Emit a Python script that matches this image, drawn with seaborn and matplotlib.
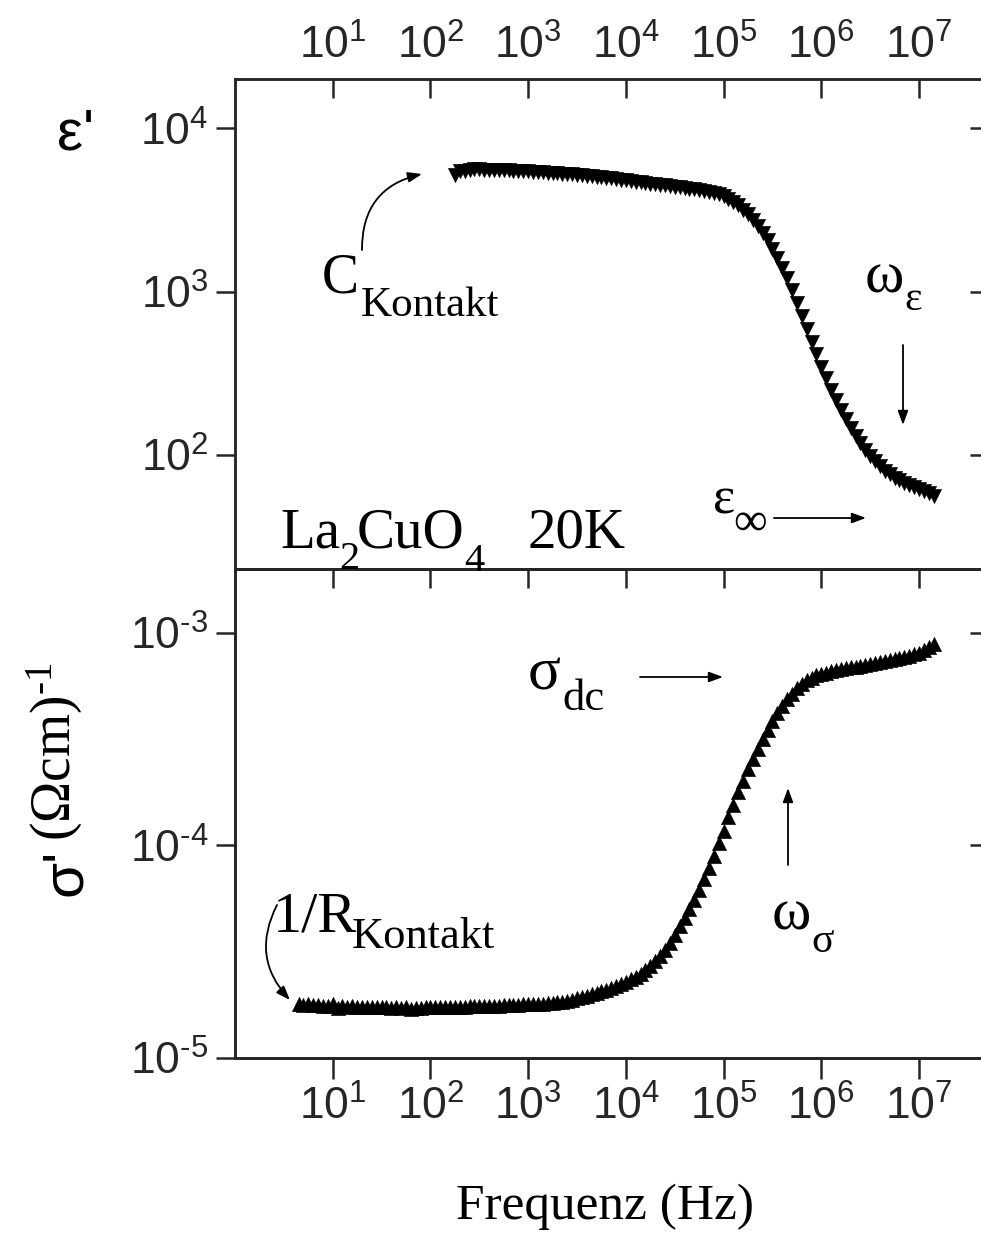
import numpy as np
import pandas as pd
import matplotlib
matplotlib.use("Agg")
import matplotlib.pyplot as plt
import seaborn as sns
from matplotlib.ticker import NullLocator, FuncFormatter
from matplotlib.patches import FancyArrowPatch

# ---------------- data ----------------
# upper panel: eps'(f), log10 values
eps_logf = [2.25, 2.30, 2.35, 2.40, 2.45, 2.50, 2.55, 2.60, 2.65, 2.70, 2.75, 2.80, 2.85, 2.90, 2.95,
            3.00, 3.05, 3.10, 3.15, 3.20, 3.25, 3.30, 3.35, 3.40, 3.45, 3.50, 3.55, 3.60, 3.65, 3.70, 3.75, 3.80, 3.85, 3.90, 3.95,
            4.00, 4.05, 4.10, 4.15, 4.20, 4.25, 4.30, 4.35, 4.40, 4.45, 4.50, 4.55, 4.60, 4.65, 4.70, 4.75, 4.80, 4.85, 4.90, 4.95,
            5.00, 5.05, 5.10, 5.15, 5.20, 5.25, 5.30, 5.35, 5.40, 5.45, 5.50, 5.55, 5.60, 5.65, 5.70, 5.75, 5.80, 5.85, 5.90, 5.95,
            6.00, 6.05, 6.10, 6.15, 6.20, 6.25, 6.30, 6.35, 6.40, 6.45, 6.50, 6.55, 6.60, 6.65, 6.70, 6.75, 6.80, 6.85, 6.90, 6.95,
            7.00, 7.05, 7.10, 7.15]
eps_logv = [3.715, 3.735, 3.740, 3.745, 3.748, 3.747, 3.746, 3.745, 3.744, 3.743, 3.742, 3.741, 3.740, 3.738, 3.737,
            3.735, 3.733, 3.731, 3.729, 3.727, 3.725, 3.723, 3.721, 3.719, 3.717, 3.715, 3.712, 3.709, 3.706, 3.703, 3.700, 3.697, 3.693, 3.689, 3.685,
            3.681, 3.677, 3.673, 3.669, 3.665, 3.661, 3.657, 3.653, 3.649, 3.645, 3.641, 3.637, 3.633, 3.629, 3.625, 3.621, 3.616, 3.610, 3.603, 3.594,
            3.582, 3.567, 3.549, 3.527, 3.502, 3.473, 3.440, 3.402, 3.360, 3.313, 3.261, 3.204, 3.143, 3.080, 3.010, 2.930, 2.850, 2.770, 2.692, 2.615,
            2.540, 2.470, 2.400, 2.335, 2.275, 2.218, 2.165, 2.115, 2.070, 2.030, 1.993, 1.960, 1.930, 1.903, 1.880, 1.860, 1.843, 1.828, 1.815, 1.803,
            1.792, 1.780, 1.765, 1.745]

# lower panel: sigma'(f), log10 values
sig_logf = [0.65, 0.70, 0.75, 0.80, 0.85, 0.90, 0.95,
            1.00, 1.05, 1.10, 1.15, 1.20, 1.25, 1.30, 1.35, 1.40, 1.45, 1.50, 1.55, 1.60, 1.65, 1.70, 1.75, 1.80, 1.85, 1.90, 1.95,
            2.00, 2.05, 2.10, 2.15, 2.20, 2.25, 2.30, 2.35, 2.40, 2.45, 2.50, 2.55, 2.60, 2.65, 2.70, 2.75, 2.80, 2.85, 2.90, 2.95,
            3.00, 3.05, 3.10, 3.15, 3.20, 3.25, 3.30, 3.35, 3.40, 3.45, 3.50, 3.55, 3.60, 3.65, 3.70, 3.75, 3.80, 3.85, 3.90, 3.95,
            4.00, 4.05, 4.10, 4.15, 4.20, 4.25, 4.30, 4.35, 4.40, 4.45, 4.50, 4.55, 4.60, 4.65, 4.70, 4.75, 4.80, 4.85, 4.90, 4.95,
            5.00, 5.05, 5.10, 5.15, 5.20, 5.25, 5.30, 5.35, 5.40, 5.45, 5.50, 5.55, 5.60, 5.65, 5.70, 5.75, 5.80, 5.85, 5.90, 5.95,
            6.00, 6.05, 6.10, 6.15, 6.20, 6.25, 6.30, 6.35, 6.40, 6.45, 6.50, 6.55, 6.60, 6.65, 6.70, 6.75, 6.80, 6.85, 6.90, 6.95,
            7.00, 7.05, 7.10, 7.15]
sig_logv = [-4.745, -4.750, -4.748, -4.752, -4.750, -4.755, -4.753,
            -4.745, -4.765, -4.755, -4.758, -4.756, -4.760, -4.758, -4.762, -4.760, -4.758, -4.762, -4.760, -4.763, -4.761, -4.764, -4.762, -4.770, -4.763, -4.766, -4.762,
            -4.760, -4.761, -4.760, -4.760, -4.759, -4.759, -4.758, -4.758, -4.757, -4.757, -4.756, -4.756, -4.755, -4.754, -4.753, -4.752, -4.751, -4.750, -4.749, -4.748,
            -4.747, -4.746, -4.745, -4.744, -4.742, -4.740, -4.738, -4.735, -4.731, -4.726, -4.720, -4.714, -4.708, -4.701, -4.694, -4.687, -4.679, -4.670, -4.661, -4.651,
            -4.641, -4.630, -4.618, -4.603, -4.586, -4.567, -4.545, -4.520, -4.490, -4.457, -4.420, -4.380, -4.340, -4.298, -4.255, -4.208, -4.158, -4.105, -4.049, -3.990,
            -3.930, -3.868, -3.808, -3.750, -3.695, -3.642, -3.592, -3.545, -3.500, -3.456, -3.413, -3.375, -3.342, -3.312, -3.285, -3.260, -3.240, -3.223, -3.210, -3.200,
            -3.192, -3.186, -3.180, -3.175, -3.170, -3.166, -3.162, -3.158, -3.154, -3.150, -3.146, -3.142, -3.138, -3.134, -3.129, -3.124, -3.119, -3.113, -3.107, -3.100,
            -3.092, -3.082, -3.068, -3.050]

x_ticks = [1e1, 1e2, 1e3, 1e4, 1e5, 1e6, 1e7]
eps_ticks = [1e2, 1e3, 1e4]
sig_ticks = [1e-5, 1e-4, 1e-3]
x_lim = (1.0, 5.2e7)
eps_lim = (20.0, 2.0e4)
sig_lim = (1.0e-5, 2.0e-3)

df_eps = pd.DataFrame({"f": 10 ** np.array(eps_logf), "v": 10 ** np.array(eps_logv)})
df_sig = pd.DataFrame({"f": 10 ** np.array(sig_logf), "v": 10 ** np.array(sig_logv)})

# ---------------- style ----------------
sns.set_style("ticks")
plt.rcParams["font.family"] = ["Liberation Sans", "DejaVu Sans"]
plt.rcParams["axes.unicode_minus"] = False
plt.rcParams["mathtext.fontset"] = "custom"
plt.rcParams["mathtext.rm"] = "Liberation Serif"
plt.rcParams["mathtext.it"] = "Liberation Serif:italic"
plt.rcParams["mathtext.sf"] = "Liberation Sans"
plt.rcParams["axes.linewidth"] = 1.8

W, H = 981, 1255
fig = plt.figure(figsize=(W / 100, H / 100), dpi=100)
L, R = 235, 989
ax1 = fig.add_axes([L / W, 1 - 569 / H, (R - L) / W, (569 - 79) / H])
ax2 = fig.add_axes([L / W, 1 - 1058 / H, (R - L) / W, (1058 - 569) / H])

TICK_FS = 32
LW = 1.8
HYPH = "\u2010"


def pow_fmt(v, pos):
    e = int(round(np.log10(v)))
    es = str(e).replace("-", HYPH)
    return r"$\mathdefault{10^{%s}}$" % es


fmt = FuncFormatter(pow_fmt)

sns.scatterplot(data=df_eps, x="f", y="v", marker="v", s=105, color="black",
                edgecolor="black", linewidth=0.4, ax=ax1, legend=False, zorder=3)
sns.scatterplot(data=df_sig, x="f", y="v", marker="^", s=105, color="black",
                edgecolor="black", linewidth=0.4, ax=ax2, legend=False, zorder=3)

for ax, ylim, yt in ((ax1, eps_lim, eps_ticks), (ax2, sig_lim, sig_ticks)):
    ax.set_xscale("log")
    ax.set_yscale("log")
    ax.set_xlim(*x_lim)
    ax.set_ylim(*ylim)
    ax.set_xticks(x_ticks)
    ax.set_yticks(yt)
    ax.xaxis.set_major_formatter(fmt)
    ax.yaxis.set_major_formatter(fmt)
    ax.xaxis.set_minor_locator(NullLocator())
    ax.yaxis.set_minor_locator(NullLocator())
    ax.set_xlabel("")
    ax.set_ylabel("")
    for sp in ax.spines.values():
        sp.set_linewidth(LW)
    ax.tick_params(axis="y", which="major", direction="out", left=True, right=False,
                   length=14, width=LW, labelsize=TICK_FS, pad=5)
    # right-hand inward ticks
    axr = ax.twinx()
    axr.set_yscale("log")
    axr.set_ylim(*ylim)
    axr.set_yticks(yt)
    axr.yaxis.set_minor_locator(NullLocator())
    axr.tick_params(axis="y", direction="in", length=14, width=LW, labelright=False)
    for sp in axr.spines.values():
        sp.set_linewidth(LW)

# upper panel: labelled top axis, inward ticks
ax1.xaxis.tick_top()
ax1.tick_params(axis="x", which="major", direction="in", top=True, bottom=False,
                labeltop=True, labelbottom=False, length=14, width=LW,
                labelsize=TICK_FS, pad=8)

# lower panel: labelled bottom axis (outward) + inward ticks at the divider
ax2.tick_params(axis="x", which="major", direction="out", top=False, bottom=True,
                labelbottom=True, length=15, width=LW, labelsize=TICK_FS, pad=5)
ax2t = ax2.twiny()
ax2t.set_xscale("log")
ax2t.set_xlim(*x_lim)
ax2t.set_xticks(x_ticks)
ax2t.xaxis.set_minor_locator(NullLocator())
ax2t.tick_params(axis="x", direction="in", length=14, width=LW, labeltop=False)

# ---------------- texts ----------------
SERIF = "Liberation Serif"
SANS = "Liberation Sans"


def T(x, y, s, size, family=SERIF, **kw):
    kw.setdefault("ha", "left")
    kw.setdefault("va", "baseline")
    fig.text(x / W, 1 - y / H, s, fontsize=size, family=family, color="black", **kw)


def A(x1, y1, x2, y2, rad=0.0):
    p = FancyArrowPatch((x1 / W, 1 - y1 / H), (x2 / W, 1 - y2 / H),
                        transform=fig.transFigure,
                        arrowstyle="-|>,head_length=0.6,head_width=0.22",
                        mutation_scale=14, lw=1.3, color="black",
                        shrinkA=0, shrinkB=0,
                        connectionstyle=f"arc3,rad={rad}", zorder=5)
    fig.add_artist(p)


# axis labels
T(76, 150, "ε'", 42, family=SANS, ha="center")
T(66, 872, "σ'", 42, family=SANS, ha="center", va="center", rotation=90)
T(55, 752, "(Ωcm)$^{\\mathdefault{" + HYPH + "1}}$", 40, ha="center", va="center", rotation=90)
T(605, 1207, "Frequenz (Hz)", 37, ha="center", va="center")

# upper panel annotations
T(322, 292, "C", 40)
T(361, 316, "Kontakt", 31)
A(362, 250, 422, 174, rad=-0.4)
T(865, 292, "ω", 43)
T(904, 310, "ε", 30)
A(903, 345, 903, 425)
T(713, 513, "ε", 38)
T(733, 535, "∞", 34)
A(774, 518, 866, 518)
T(280, 547, "La", 41)
T(339, 569, "2", 29)
T(357, 547, "CuO", 41)
T(464, 571, "4", 29)
T(528, 547, "20K", 41)

# lower panel annotations
T(528, 690, "σ", 44)
T(562, 710, "dc", 32)
A(640, 677, 723, 677)
A(788, 865, 788, 788)
T(772, 930, "ω", 43)
T(811, 952, "σ", 30)
T(273, 932, "1/R", 42)
T(352, 948, "Kontakt", 32)
A(277, 905, 290, 1000, rad=0.35)

fig.savefig("out.png", dpi=100)
